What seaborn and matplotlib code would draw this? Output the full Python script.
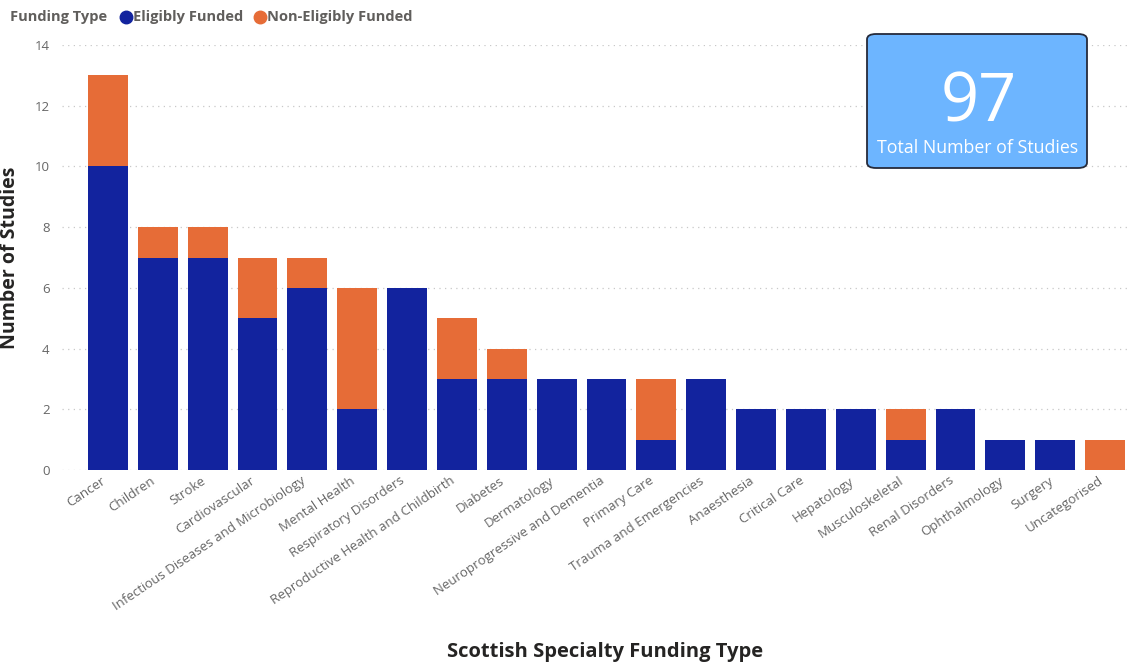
import matplotlib
matplotlib.use("Agg")
import matplotlib.pyplot as plt
from matplotlib.patches import FancyBboxPatch
from matplotlib.lines import Line2D
import matplotlib.transforms as mtransforms
import seaborn as sns
import pandas as pd

categories = [
    "Cancer", "Children", "Stroke", "Cardiovascular",
    "Infectious Diseases and Microbiology", "Mental Health",
    "Respiratory Disorders", "Reproductive Health and Childbirth",
    "Diabetes", "Dermatology", "Neuroprogressive and Dementia",
    "Primary Care", "Trauma and Emergencies", "Anaesthesia",
    "Critical Care", "Hepatology", "Musculoskeletal", "Renal Disorders",
    "Ophthalmology", "Surgery", "Uncategorised",
]
eligibly_funded = [10, 7, 7, 5, 6, 2, 6, 3, 3, 3, 3, 1, 3, 2, 2, 2, 1, 2, 1, 1, 0]
non_eligibly_funded = [3, 1, 1, 2, 1, 4, 0, 2, 1, 0, 0, 2, 0, 0, 0, 0, 1, 0, 0, 0, 1]
total_studies = 97

BLUE = "#12239E"
ORANGE = "#E66C37"
CARD = "#6DB5FF"

df = pd.DataFrame({
    "Specialty": categories,
    "Eligibly Funded": eligibly_funded,
    "Non-Eligibly Funded": non_eligibly_funded,
})
df["Total"] = df["Eligibly Funded"] + df["Non-Eligibly Funded"]

sns.set_theme(style="white")
plt.rcParams["font.family"] = ["Open Sans", "DejaVu Sans"]

fig = plt.figure(figsize=(11.33, 6.66), dpi=100)
ax = fig.add_axes([62 / 1133, 196 / 666, (1130 - 62) / 1133, 425 / 666])

# stacked bars: full height in orange, eligible portion in blue on top
sns.barplot(data=df, x="Specialty", y="Total", color=ORANGE, width=0.8,
            saturation=1, linewidth=0, ax=ax, zorder=2)
sns.barplot(data=df, x="Specialty", y="Eligibly Funded", color=BLUE, width=0.8,
            saturation=1, linewidth=0, ax=ax, zorder=3)

ax.set_xlim(-0.92, 20.5)
ax.set_ylim(0, 14)
ax.set_yticks(range(0, 15, 2))
ax.yaxis.grid(True, linestyle=(0, (1, 3.5)), color="#c8c8c8", linewidth=0.9)
ax.set_axisbelow(True)
for s in ax.spines.values():
    s.set_visible(False)

ax.tick_params(axis="y", labelsize=9.5, labelcolor="#666666", length=0, pad=9)
ax.tick_params(axis="x", labelsize=9.5, labelcolor="#666666", length=0, pad=3)
shift = mtransforms.ScaledTranslation(-7 / 100, 0, fig.dpi_scale_trans)
for lbl in ax.get_xticklabels():
    lbl.set_rotation(34)
    lbl.set_ha("right")
    lbl.set_rotation_mode("anchor")
    lbl.set_transform(lbl.get_transform() + shift)

ax.set_ylabel("Number of Studies", fontsize=14, fontweight="bold", color="#252423", labelpad=10)
ax.set_xlabel("")
fig.text(605 / 1133, 1 - 652 / 666, "Scottish Specialty Funding Type", ha="center",
         va="center", fontsize=14.5, fontweight="bold", color="#252423")

# legend row
ly = 1 - 17 / 666
fig.text(10 / 1133, ly, "Funding Type", ha="left", va="center",
         fontsize=10.5, fontweight="bold", color="#605E5C")
fig.add_artist(Line2D([125.5 / 1133], [ly], marker="o", markersize=9,
                      color=BLUE, transform=fig.transFigure, linestyle=""))
fig.text(133 / 1133, ly, "Eligibly Funded", ha="left", va="center",
         fontsize=10.5, fontweight="bold", color="#605E5C")
fig.add_artist(Line2D([260 / 1133], [ly], marker="o", markersize=9,
                      color=ORANGE, transform=fig.transFigure, linestyle=""))
fig.text(267 / 1133, ly, "Non-Eligibly Funded", ha="left", va="center",
         fontsize=10.5, fontweight="bold", color="#605E5C")

# summary card
card = FancyBboxPatch((867 / 1133, 1 - 168 / 666), 220 / 1133, 134 / 666,
                      boxstyle="round,pad=0,rounding_size=0.008",
                      transform=fig.transFigure, facecolor=CARD,
                      edgecolor="#252a3a", linewidth=1.3, zorder=5)
fig.add_artist(card)
fig.text(979 / 1133, 1 - 104 / 666, str(total_studies), ha="center", va="center",
         fontsize=48, color="white", zorder=6)
fig.text(978 / 1133, 1 - 148 / 666, "Total Number of Studies", ha="center",
         va="center", fontsize=12.8, color="white", zorder=6)

fig.savefig("out.png", dpi=100)
